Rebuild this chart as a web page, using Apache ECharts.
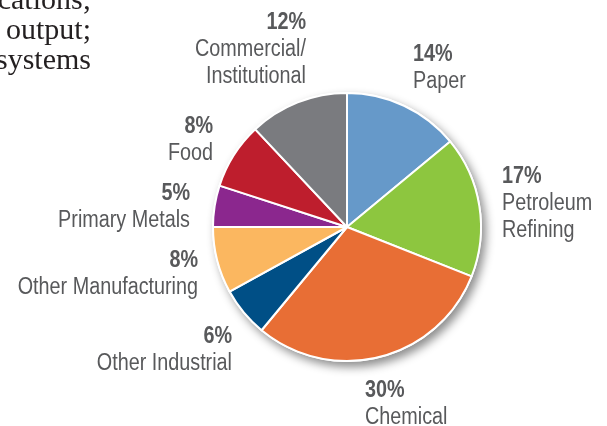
<!DOCTYPE html>
<html>
<head>
<meta charset="utf-8">
<script src="https://cdn.jsdelivr.net/npm/echarts@6/dist/echarts.min.js"></script>
<style>
html,body{margin:0;padding:0;background:#fff;}
#c{width:607px;height:426px;}
</style>
</head>
<body>
<div id="c"></div>
<script>
var categories = ['Paper', 'Petroleum\nRefining', 'Chemical', 'Other Industrial', 'Other Manufacturing', 'Primary Metals', 'Food', 'Commercial/\nInstitutional'];
var shares = [14, 17, 30, 6, 8, 5, 8, 12];
var colors = ['#6699c9', '#8dc63f', '#e86e35', '#004f86', '#fbb760', '#8b278e', '#be1e2d', '#7a7b7f'];
var serifLines = ['cations;', 'output;', 'systems'];

// label anchor positions (x, top y, align)
var labelPos = [
  [413, 41, 'left'],
  [502, 163, 'left'],
  [365, 377, 'left'],
  [232, 323, 'right'],
  [198, 247, 'right'],
  [190, 180, 'right'],
  [213, 113, 'right'],
  [306, 9, 'right']
];

var chart = echarts.init(document.getElementById('c'), null, {renderer: 'canvas'});
var FONT = "'Liberation Sans', Arial, sans-serif";
var TXT = '#58595b';

var data = categories.map(function (n, i) {
  return {name: n, value: shares[i], itemStyle: {color: colors[i]}};
});

var graphics = serifLines.map(function (t, i) {
  return {
    type: 'text',
    x: 91,
    y: 16 + i * 30,
    silent: true,
    style: {
      text: t,
      align: 'right',
      verticalAlign: 'bottom',
      font: "30px 'Liberation Serif', serif",
      fill: '#231f20'
    }
  };
});

categories.forEach(function (n, i) {
  var lp = labelPos[i];
  graphics.push({
    type: 'text',
    x: lp[0],
    y: lp[1],
    scaleX: 0.86,
    silent: true,
    style: {
      text: '{p|' + shares[i] + '%}\n{n|' + n.split('\n').join('}\n{n|') + '}',
      align: lp[2],
      verticalAlign: 'top',
      rich: {
        p: {fontFamily: FONT, fontSize: 23, fontWeight: 'bold', fill: TXT, lineHeight: 27, align: lp[2]},
        n: {fontFamily: FONT, fontSize: 23, fill: TXT, lineHeight: 27, align: lp[2]}
      }
    }
  });
});

chart.setOption({
  animation: false,
  backgroundColor: '#fff',
  graphic: graphics,
  series: [
    {
      type: 'pie',
      silent: true,
      z: 1,
      center: [347, 227],
      radius: [0, 135],
      label: {show: false},
      labelLine: {show: false},
      itemStyle: {
        color: '#fff',
        shadowColor: 'rgba(0,0,0,0.45)',
        shadowBlur: 10,
        shadowOffsetX: 4,
        shadowOffsetY: 5
      },
      data: [{value: 1, name: 'bg'}]
    },
    {
      type: 'pie',
      z: 2,
      center: [347, 227],
      radius: [0, 134],
      startAngle: 90,
      clockwise: true,
      itemStyle: {borderColor: '#fff', borderWidth: 2},
      label: {show: false},
      labelLine: {show: false},
      emphasis: {disabled: true},
      data: data
    }
  ]
});
</script>
</body>
</html>
